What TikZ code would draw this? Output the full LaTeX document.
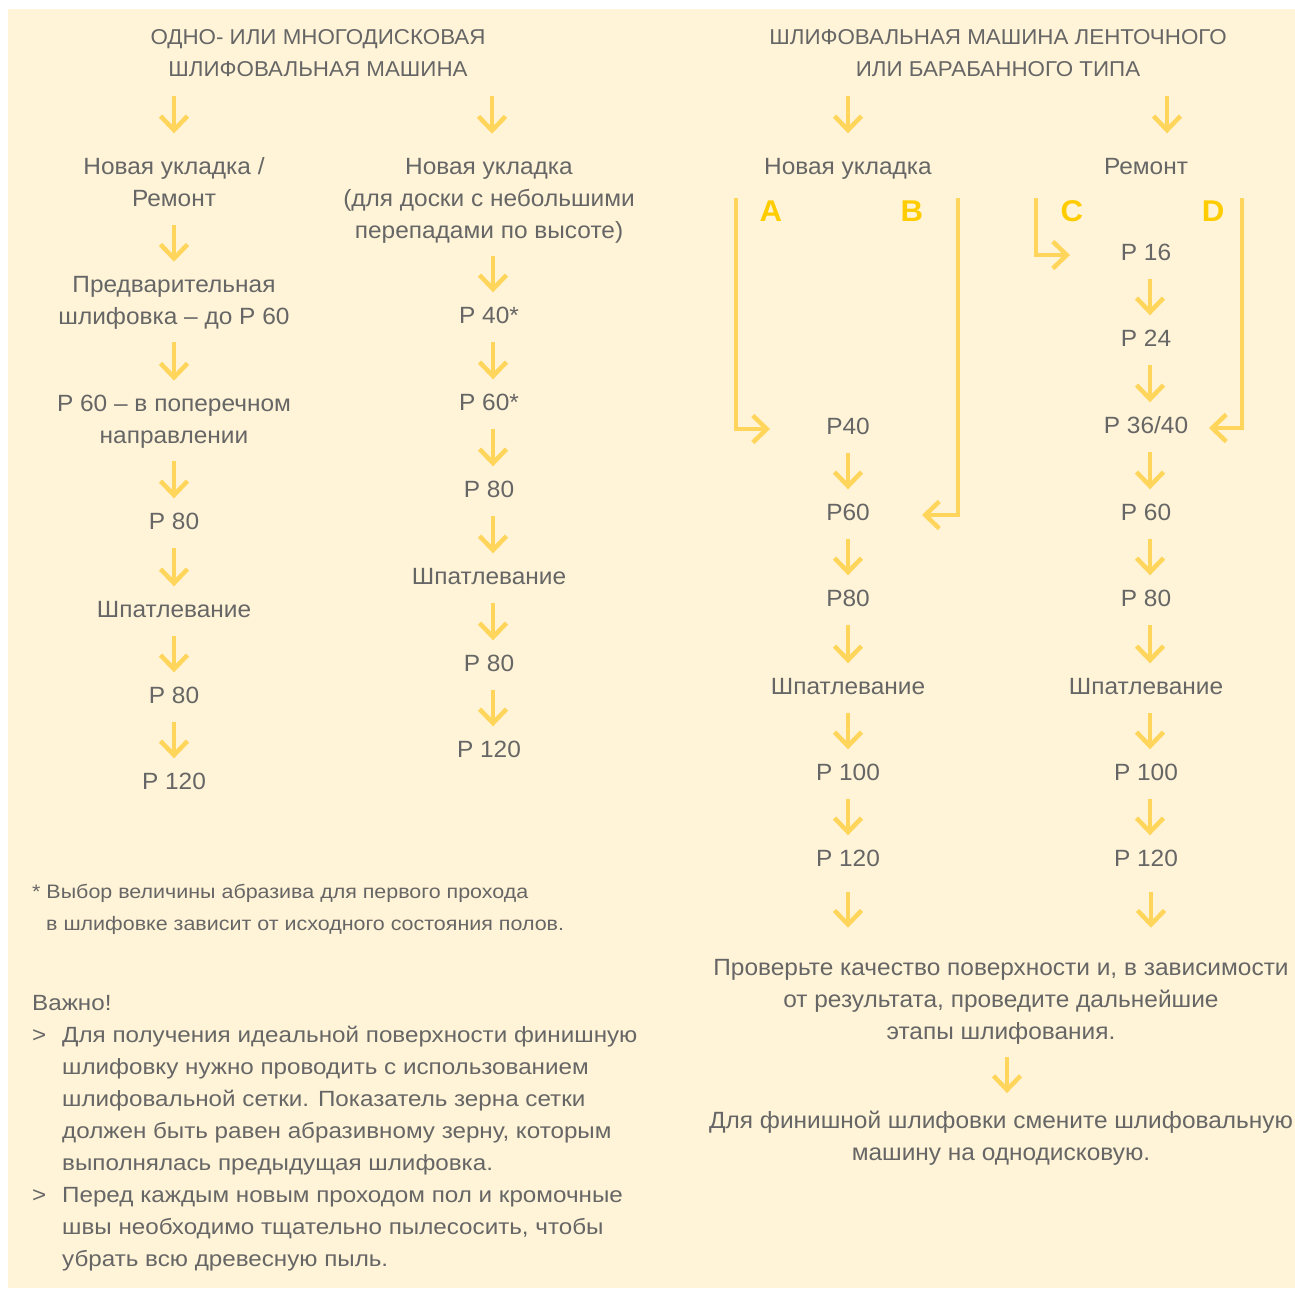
\documentclass[tikz,border=0pt]{standalone}
\usepackage{fontspec}
\setmainfont[FakeStretch=1.04]{Liberation Sans}
\newfontfamily\notefam[FakeStretch=1.1]{Liberation Sans}
\usetikzlibrary{arrows.meta}
\definecolor{bgcream}{HTML}{FFF4D7}
\definecolor{txtgray}{HTML}{666666}
\definecolor{arryellow}{HTML}{FFD55C}
\definecolor{lblyellow}{HTML}{FFCC00}
\newcommand\vstrut{\rule[-6pt]{0pt}{23pt}}

\begin{document}
\begin{tikzpicture}[x=1pt,y=-1pt,
    txt/.style={font=\fontsize{23.5}{32}\selectfont,text=txtgray,align=center,
      inner sep=0pt,execute at begin node=\vstrut,execute at end node=\vstrut},
    hdr/.style={txt,font=\fontsize{21.5}{32}\selectfont},
    note/.style={txt,align=left,anchor=north west},
    lbl/.style={font=\bfseries\fontsize{30}{30}\selectfont,text=lblyellow,inner sep=0pt},
    brk/.style={draw=arryellow,line width=4.5pt,-{Straight Barb[length=14pt,width=27pt]}},
    arr/.style={brk,shorten <=12pt,shorten >=14pt}]
  \useasboundingbox (0,0) rectangle (1295,1288);
  \fill[white] (0,0) rectangle (1295,1288);
  \fill[bgcream] (8,9) rectangle (1295,1288);
  %\draw[very thin,lightgray] (0,0) grid[step=100] (1295,1288);

  % headers
  \node[hdr] (hL) at (318,56) {ОДНО- ИЛИ МНОГОДИСКОВАЯ\\ШЛИФОВАЛЬНАЯ МАШИНА};
  \node[hdr] (hR) at (998,56) {ШЛИФОВАЛЬНАЯ МАШИНА ЛЕНТОЧНОГО\\ИЛИ БАРАБАННОГО ТИПА};

  % single disc, left column
  \node[txt] (lNew) at (174,185) {Новая укладка /\\Ремонт};
  \node[txt] (lPre) at (174,303) {Предварительная\\шлифовка – до P 60};
  \node[txt] (lP60) at (174,422) {P 60 – в поперечном\\направлении};
  \node[txt] (lP80a) at (174,524) {P 80};
  \node[txt] (lFill) at (174,612) {Шпатлевание};
  \node[txt] (lP80b) at (174,698) {P 80};
  \node[txt] (lP120) at (174,784) {P 120};

  % single disc, second column
  \node[txt] (mNew) at (489,201) {Новая укладка\\(для доски с небольшими\\перепадами по высоте)};
  \node[txt] (mP40) at (489,318) {P 40*};
  \node[txt] (mP60) at (489,405) {P 60*};
  \node[txt] (mP80a) at (489,492) {P 80};
  \node[txt] (mFill) at (489,579) {Шпатлевание};
  \node[txt] (mP80b) at (489,666) {P 80};
  \node[txt] (mP120) at (489,752) {P 120};

  % belt / drum, new floor
  \node[txt] (bNew) at (848,169) {Новая укладка};
  \node[txt] (bP40) at (848,429) {P40};
  \node[txt] (bP60) at (848,515) {P60};
  \node[txt] (bP80) at (848,601) {P80};
  \node[txt] (bFill) at (848,689) {Шпатлевание};
  \node[txt] (bP100) at (848,775) {P 100};
  \node[txt] (bP120) at (848,861) {P 120};

  % belt / drum, repair
  \node[txt] (rRep) at (1146,169) {Ремонт};
  \node[txt] (rP16) at (1146,255) {P 16};
  \node[txt] (rP24) at (1146,341) {P 24};
  \node[txt] (rP36) at (1146,428) {P 36/40};
  \node[txt] (rP60) at (1146,515) {P 60};
  \node[txt] (rP80) at (1146,601) {P 80};
  \node[txt] (rFill) at (1146,689) {Шпатлевание};
  \node[txt] (rP100) at (1146,775) {P 100};
  \node[txt] (rP120) at (1146,861) {P 120};

  \node[txt] (chk) at (1001,1002) {Проверьте качество поверхности и, в зависимости\\
    от результата, проведите дальнейшие\\этапы шлифования.};
  \node[txt] (fin) at (1001,1139) {Для финишной шлифовки смените шлифовальную\\
    машину на однодисковую.};

  \node[lbl] (lblA) at (771,211) {A};
  \node[lbl] (lblB) at (912,211) {B};
  \node[lbl] (lblC) at (1072,211) {C};
  \node[lbl] (lblD) at (1213,211) {D};

  \node[note,font=\notefam\fontsize{19.5}{32}\selectfont] (foot) at (32,884)
    {* Выбор величины абразива для первого прохода\\
    \hspace*{14pt}в шлифовке зависит от исходного состояния полов.};
  \node[note,font=\notefam\fontsize{22}{32}\selectfont] (imp) at (32,995)
    {Важно!\\
    \makebox[30pt][l]{>}Для получения идеальной поверхности финишную\\
    \hspace*{30pt}шлифовку нужно проводить с использованием\\
    \hspace*{30pt}шлифовальной сетки. Показатель зерна сетки\\
    \hspace*{30pt}должен быть равен абразивному зерну, которым\\
    \hspace*{30pt}выполнялась предыдущая шлифовка.\\
    \makebox[30pt][l]{>}Перед каждым новым проходом пол и кромочные\\
    \hspace*{30pt}швы необходимо тщательно пылесосить, чтобы\\
    \hspace*{30pt}убрать всю древесную пыль.};

  % arrows
  \coordinate (rArr) at (1167,0);
  \coordinate (fArr) at (1007,0);
  \draw[brk,shorten <=13pt,shorten >=24pt] (hL.south -| lNew) -- (lNew);
  \draw[brk,shorten <=13pt,shorten >=24pt] ([xshift=3pt]hL.south -| mNew) -- ([xshift=3pt]mNew.north);
  \draw[brk,shorten <=13pt,shorten >=24pt] (hR.south -| bNew) -- (bNew);
  \draw[brk,shorten <=13pt,shorten >=24pt] (hR.south -| rArr) -- (rArr |- rRep.north);
  \foreach \a/\b in {lNew/lPre,lPre/lP60,lP60/lP80a,lP80a/lFill,lFill/lP80b,lP80b/lP120,
      bP40/bP60,bP60/bP80,bP80/bFill,bFill/bP100,bP100/bP120}
    \draw[arr] (\a) -- (\b);
  \foreach \a/\b in {mNew/mP40,mP40/mP60,mP60/mP80a,mP80a/mFill,mFill/mP80b,mP80b/mP120,
      rP16/rP24,rP24/rP36,rP36/rP60,rP60/rP80,rP80/rFill,rFill/rP100,rP100/rP120}
    \draw[arr] ([xshift=4pt]\a.south) -- ([xshift=4pt]\b.north);
  \draw[brk,shorten <=19pt,shorten >=31pt] (bP120.south) -- (bP120.south |- chk.north);
  \draw[brk,shorten <=19pt,shorten >=31pt] ([xshift=5pt]rP120.south) -- ([xshift=5pt]rP120.south |- chk.north);
  \draw[brk,shorten <=12pt,shorten >=18pt] (chk.south -| fArr) -- (fArr |- fin.north);

  % A, B, C, D
  \draw[brk,shorten >=78pt] (736,198) |- (bP40.center);
  \draw[brk,shorten >=74pt] (958,198) |- (bP60.center);
  \draw[brk,shorten >=76pt] (1036,198) |- (rP16.center);
  \draw[brk,shorten >=63pt] (1242,198) |- (rP36.center);
\end{tikzpicture}
\end{document}
